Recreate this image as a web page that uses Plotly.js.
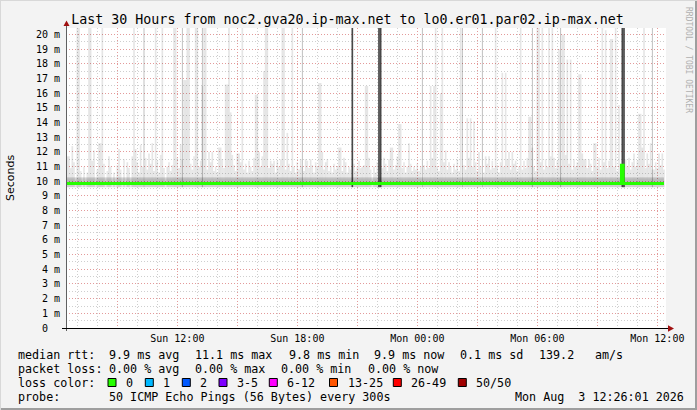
<!DOCTYPE html>
<html><head><meta charset="utf-8">
<script src="https://cdn.plot.ly/plotly-3.0.1.min.js"></script>
<style>html,body{margin:0;padding:0;background:#f3f3f3;overflow:hidden}#chart{width:697px;height:410px}</style>
</head><body><div id="chart"></div>
<script>
// ---------------- data ----------------
const rangeStart = "2026-08-02 06:26:01";
const rangeEnd   = "2026-08-03 12:26:01";

const xTickTimes  = ["2026-08-02 12:00","2026-08-02 18:00","2026-08-03 00:00","2026-08-03 06:00","2026-08-03 12:00"];
const xTickLabels = ["Sun 12:00","Sun 18:00","Mon 00:00","Mon 06:00","Mon 12:00"];
const xMajorGridTimes = ["2026-08-02 09:00","2026-08-02 12:00","2026-08-02 15:00","2026-08-02 18:00","2026-08-02 21:00",
  "2026-08-03 00:00","2026-08-03 03:00","2026-08-03 06:00","2026-08-03 09:00","2026-08-03 12:00"];
const yTickValues = [0,1,2,3,4,5,6,7,8,9,10,11,12,13,14,15,16,17,18,19,20];
const yTickLabels = ["0\u00a0\u00a0","1 m","2 m","3 m","4 m","5 m","6 m","7 m","8 m","9 m","10 m","11 m","12 m",
  "13 m","14 m","15 m","16 m","17 m","18 m","19 m","20 m"];

// light smoke: max ping per 5-min sample (ms); 25 = off the top of the scale
const sunSmokeTimes = ["06:30","06:35","06:45","07:00","07:05","07:35","07:40","07:50","08:05","08:10","08:15","08:35",
  "09:05","09:30","09:45","09:50","09:55","10:10","10:35","10:45","10:55","11:15","11:30","11:50","11:55","12:10",
  "12:20","12:25","12:30","12:35","12:55","13:00","13:15","13:20","13:25","13:35","13:45","14:05","14:10","14:25",
  "14:30","14:35","14:40","15:00","15:05","15:15","15:55","16:00","16:05","16:20","16:25","16:30","16:40","16:50",
  "17:00","17:15","17:20","17:30","17:45","18:10","18:25","18:40","19:05","19:10","19:15","19:25","20:05","20:10",
  "20:20","21:00","21:15","21:25","21:30","22:20","22:40","22:45","23:05","23:10","23:35"];
const sunSmokeMax = [11.7,11.7,12.4,25,25,25,25,12.1,12.6,12.6,25,11.7,
  12.2,11.3,11.7,25,12.2,12.5,11.9,12.6,25,25,11.0,25,25,12.5,
  16.9,16.9,25,25,25,25,16.5,25,25,12.0,12.0,12.3,12.3,16.6,
  16.6,25,14.7,11.9,11.9,25,15.9,15.9,12.0,17.5,25,25,11.4,11.4,
  11.4,25,25,13.3,25,11.5,11.5,11.5,16.7,16.7,12.0,11.3,12.3,12.3,
  11.6,11.0,11.0,16.5,16.5,11.6,12.3,12.3,13.9,13.9,12.6];
const monSmokeTimes = ["00:20","00:40","00:50","00:55","01:10","01:15","01:25","01:35","02:10","02:30","02:40","02:50",
  "03:05","03:25","03:35","03:55","04:15","04:25","04:35","04:45","04:55","05:10","05:35","05:40","05:45","06:00",
  "06:05","06:15","06:35","06:45","06:50","07:05","07:15","07:20","07:30","07:40","08:05","08:10","08:15","08:20",
  "08:25","08:35","08:50","08:55","09:15","09:25","09:40","09:45","09:55","10:05","10:35","10:50","11:05","11:10",
  "11:15","11:20","11:30","11:40","11:50","12:05","12:15"];
const monSmokeMax = [11.1,16.5,16.5,25,16.0,25,12.1,11.3,25,14.3,14.3,14.1,
  12.0,11.7,11.7,25,17.4,17.4,12.0,12.0,11.4,25,14.4,14.4,12.3,25,
  25,25,25,25,11.6,19.0,20.0,20.0,18.3,18.3,17.3,17.3,11.9,11.5,
  11.5,11.5,12.6,12.6,25,20.3,19.7,19.7,25,15.2,11.6,11.9,14.6,14.6,
  12.3,25,11.9,12.6,10.8,11.9,11.9];

// lower smoke (ms) between the spikes, estimated sample by sample
const sunMidTimes = ["06:40","06:50","07:10","07:20","07:30","07:45","08:00","08:20","08:30","08:40","08:50","09:00",
  "09:10","09:20","09:35","10:00","10:05","10:15","10:25","10:30","10:40","10:50","11:00","11:05","11:10","11:20",
  "11:35","11:40","11:45","12:00","12:05","12:15","12:40","12:45","12:50","13:05","13:10","13:30","13:40","13:50",
  "13:55","14:00","14:15","14:20","14:45","14:50","14:55","15:10","15:20","15:25","15:30","15:35","15:40","15:45",
  "15:50","16:10","16:15","16:35","16:45","16:55","17:05","17:10","17:25","17:35","17:40","17:50","17:55","18:00",
  "18:05","18:15","18:20","18:30","18:35","18:45","18:50","18:55","19:00","19:20","19:30","19:35","19:40","19:45",
  "19:50","19:55","20:00","20:15","20:25","20:30","20:35","20:40","20:50","20:55","21:05","21:10","21:20","21:35",
  "21:40","21:50","21:55","22:00","22:15","22:25","22:30","22:35","22:50","22:55","23:00","23:15","23:20","23:25",
  "23:30","23:40","23:45","23:50","23:55"];
const sunMidMax = [10.9,11.3,10.7,11.0,10.6,11.4,10.8,11.2,10.7,11.0,10.6,11.1,
  10.8,11.5,10.9,11.3,10.6,11.0,11.6,10.8,11.2,10.7,11.4,10.6,11.8,10.9,
  11.3,10.7,11.1,11.6,10.9,11.5,11.2,10.8,11.7,11.0,11.4,10.8,11.3,10.7,
  11.0,10.6,11.5,10.9,11.8,11.1,10.7,11.3,10.8,11.2,10.6,11.4,11.0,10.7,
  11.6,11.0,11.7,10.9,11.2,10.6,11.0,11.5,10.8,11.2,10.7,11.0,10.6,11.3,
  10.8,11.0,10.7,11.4,10.9,11.1,10.6,11.3,11.0,10.8,11.5,10.7,11.0,10.6,
  11.2,10.8,11.0,10.7,11.3,10.6,11.0,10.8,11.2,10.7,11.4,10.9,11.1,11.6,
  10.8,11.0,10.6,11.3,10.9,11.2,10.7,11.5,10.8,11.1,11.7,10.9,11.3,10.6,
  11.0,11.2,10.7,11.0,10.8];
const monMidTimes = ["00:00","00:05","00:10","00:25","00:30","00:35","00:45","01:00","01:05","01:20","01:30","01:40",
  "01:45","01:50","01:55","02:00","02:05","02:20","02:25","02:35","02:45","02:55","03:00","03:10","03:20","03:30",
  "03:40","03:45","03:50","04:00","04:05","04:10","04:20","04:30","04:40","04:50","05:00","05:05","05:15","05:20",
  "05:25","05:30","05:50","05:55","06:10","06:20","06:25","06:30","06:40","06:55","07:00","07:10","07:25","07:35",
  "07:45","07:50","07:55","08:00","08:30","08:40","08:45","09:00","09:05","09:10","09:20","09:30","09:35","09:50",
  "10:00","10:10","10:25","10:30","10:40","10:45","10:55","11:00","11:25","11:35","11:45","11:55","12:00","12:10","12:20"];
const monMidMax = [11.2,10.7,11.0,10.8,11.4,10.9,11.6,11.0,10.7,11.3,10.8,11.0,
  10.6,11.2,10.8,11.5,10.7,11.1,10.8,11.6,11.0,11.3,10.7,11.0,10.6,11.2,
  10.8,11.4,10.9,11.1,10.6,11.3,11.0,11.5,10.8,11.2,10.7,11.0,10.8,11.4,
  10.9,11.6,11.0,10.7,11.3,10.8,11.5,11.0,11.7,10.9,11.4,11.0,11.8,11.2,
  10.8,11.5,11.0,11.3,10.9,11.2,10.7,11.0,11.6,10.8,11.3,10.9,11.4,11.0,
  10.7,11.2,11.5,11.0,10.8,11.3,11.0,11.4,10.9,11.2,10.8,11.3,10.9,11.1,10.8];

// medium grey and dark spikes reaching off scale
const mediumSpikeTimes = ["2026-08-02 10:20","2026-08-02 12:15","2026-08-02 13:15","2026-08-02 18:15",
  "2026-08-03 00:15","2026-08-03 02:15","2026-08-03 03:15","2026-08-03 05:45","2026-08-03 07:10","2026-08-03 11:45"];
const darkSpikeTimes = ["2026-08-02 20:45","2026-08-02 22:05","2026-08-02 22:10","2026-08-03 10:15","2026-08-03 10:20"];
const offScaleTop = 25;

// smoke bands around the median (ms)
const bandTimes = ["2026-08-02 06:26:01","2026-08-03 12:20"];
const bandLow  = [9.6, 9.6];
const bandHigh = [10.2, 10.2];
const innerLow  = [9.95, 9.95];
const innerHigh = [10.3, 10.3];

// median rtt (ms), step line
const medianTimes  = ["2026-08-02 06:26:01","2026-08-03 10:12:30","2026-08-03 10:17:30","2026-08-03 12:20"];
const medianValues = [9.85, 11.1, 9.85, 9.85];

// legend
const lossColorLabels = ["0","1","2","3-5","6-12","13-25","26-49","50/50"];
const lossColors = ["#26ff00","#00b8ff","#0059ff","#7e00ff","#ff00ff","#ff5500","#ff0000","#a10000"];

// ---------------- build ----------------
const day = d => d === "Sun" ? "2026-08-02 " : "2026-08-03 ";
const smokeX = sunSmokeTimes.map(t => day("Sun") + t).concat(monSmokeTimes.map(t => day("Mon") + t));
const smokeTop = sunSmokeMax.concat(monSmokeMax);
const midX = sunMidTimes.map(t => day("Sun") + t).concat(monMidTimes.map(t => day("Mon") + t));
const midTop = sunMidMax.concat(monMidMax);
const smokeMin = bandLow[0];
const noLine = {width:0, color:"rgba(0,0,0,0)"};

const traces = [
  {type:"scatter", mode:"lines", x:bandTimes, y:bandLow, line:noLine, hoverinfo:"skip"},
  {type:"scatter", mode:"lines", x:bandTimes, y:bandHigh, fill:"tonexty", fillcolor:"rgba(0,0,0,0.10)", line:noLine, hoverinfo:"skip"},
  {type:"scatter", mode:"lines", x:bandTimes, y:innerLow, line:noLine, hoverinfo:"skip"},
  {type:"scatter", mode:"lines", x:bandTimes, y:innerHigh, fill:"tonexty", fillcolor:"rgba(0,0,0,0.10)", line:noLine, hoverinfo:"skip"},
  {type:"bar", x:midX, y:midTop.map(v => v - smokeMin), base:smokeMin, width:300000,
    marker:{color:"rgba(0,0,0,0.09)", line:{width:0}}, hoverinfo:"skip"},
  {type:"bar", x:smokeX, y:smokeTop.map(v => v - smokeMin), base:smokeMin, width:300000,
    marker:{color:"rgba(0,0,0,0.10)", line:{width:0}}, hoverinfo:"skip"},
  {type:"bar", x:mediumSpikeTimes, y:mediumSpikeTimes.map(() => offScaleTop - smokeMin), base:smokeMin, width:150000,
    marker:{color:"rgba(0,0,0,0.30)", line:{width:0}}, hoverinfo:"skip"},
  {type:"bar", x:darkSpikeTimes, y:darkSpikeTimes.map(() => offScaleTop - smokeMin), base:smokeMin, width:300000,
    marker:{color:"rgba(40,40,40,0.85)", line:{width:0}}, hoverinfo:"skip"},
  {type:"scatter", mode:"lines", x:medianTimes, y:medianValues, line:{shape:"hv", width:3, color:"#26ff00"}, hoverinfo:"skip"}
];

const L = 66, T = 28, W = 600, H = 300;
const px = X => (X - L) / W;
const py = Y => (T + H - Y) / H;
const mono = "DejaVu Sans Mono, monospace";

const ann = [];
function txt(x, y, s, size, extra) {
  ann.push(Object.assign({xref:"paper", yref:"paper", x:px(x), y:py(y), text:s, showarrow:false,
    xanchor:"left", yanchor:"middle", font:{family:mono, size:size||11.7, color:"#000"}}, extra||{}));
}
txt(16, 354.5, "median rtt:");
txt(107.3, 354.5, "9.9 ms avg");
txt(193.3, 354.5, "11.1 ms max");
txt(286.7, 354.5, "9.8 ms min");
txt(372.3, 354.5, "9.9 ms now");
txt(458.3, 354.5, "0.1 ms sd");
txt(537.3, 354.5, "139.2");
txt(593.3, 354.5, "am/s");
txt(16, 368.5, "packet loss:");
txt(107.3, 368.5, "0.00 % avg");
txt(193.3, 368.5, "0.00 % max");
txt(279.3, 368.5, "0.00 % min");
txt(365.7, 368.5, "0.00 % now");
txt(16, 382.5, "loss color:");
const boxX = [108, 145.3, 182.3, 219, 269.3, 329.5, 393.3, 458.3];
const shapes = [];
lossColorLabels.forEach((lab, i) => {
  shapes.push({type:"rect", xref:"paper", yref:"paper", x0:px(boxX[i]), x1:px(boxX[i]+8), y0:py(386.5), y1:py(378.5),
    fillcolor:lossColors[i], line:{color:"#000", width:1}});
  txt(boxX[i] + 16, 382.5, lab);
});
txt(16, 396.5, "probe:");
txt(107.3, 396.5, "50 ICMP Echo Pings (56 Bytes) every 300s");
txt(513.3, 396.5, "Mon Aug\u00a0\u00a03 12:26:01 2026");
ann.push({xref:"paper", yref:"paper", x:px(10), y:py(178), text:"Seconds", showarrow:false, textangle:-90,
  xanchor:"center", yanchor:"middle", font:{family:"DejaVu Sans, sans-serif", size:11, color:"#000"}});
ann.push({xref:"paper", yref:"paper", x:px(689), y:py(60), text:"RRDTOOL / TOBI OETIKER", showarrow:false, textangle:90,
  xanchor:"center", yanchor:"middle", font:{family:mono, size:8, color:"#b0b0b0"}});

shapes.push({type:"line", xref:"paper", yref:"paper", x0:px(66.5), x1:px(66.5), y0:py(331), y1:py(25), line:{color:"#606060", width:1}});
shapes.push({type:"line", xref:"paper", yref:"paper", x0:px(62), x1:px(669), y0:py(328.5), y1:py(328.5), line:{color:"#000", width:1}});
shapes.push({type:"path", xref:"paper", yref:"paper",
  path:`M ${px(63.5)} ${py(26)} L ${px(69.5)} ${py(26)} L ${px(66.5)} ${py(20.5)} Z`, fillcolor:"#a01010", line:{width:0}});
shapes.push({type:"path", xref:"paper", yref:"paper",
  path:`M ${px(668)} ${py(325.3)} L ${px(668)} ${py(331.7)} L ${px(674)} ${py(328.5)} Z`, fillcolor:"#a01010", line:{width:0}});
shapes.push({type:"line", xref:"paper", yref:"paper", x0:px(696), x1:px(696), y0:py(0), y1:py(410), line:{color:"#9e9e9e", width:2}});
shapes.push({type:"line", xref:"paper", yref:"paper", x0:px(0), x1:px(697), y0:py(409), y1:py(409), line:{color:"#9e9e9e", width:2}});
shapes.push({type:"line", xref:"paper", yref:"paper", x0:px(0.5), x1:px(0.5), y0:py(0), y1:py(410), line:{color:"#d8d8d8", width:1}});
shapes.push({type:"line", xref:"paper", yref:"paper", x0:px(0), x1:px(697), y0:py(0.5), y1:py(0.5), line:{color:"#d8d8d8", width:1}});

const xTickText = xMajorGridTimes.map(t => { const i = xTickTimes.indexOf(t); return i >= 0 ? xTickLabels[i] : ""; });

const layout = {
  width:697, height:410,
  margin:{l:L, r:697-L-W, t:T, b:410-T-H, pad:0},
  paper_bgcolor:"#f3f3f3", plot_bgcolor:"#ffffff",
  barmode:"overlay", showlegend:false,
  title:{text:"Last 30 Hours from noc2.gva20.ip-max.net to lo0.er01.par02.ip-max.net",
    font:{family:mono, size:13.3, color:"#000"}, x:347.5/697, xanchor:"center", xref:"container",
    y:1-19/410, yanchor:"middle", yref:"container"},
  xaxis:{type:"date", range:[rangeStart, rangeEnd], tickmode:"array", tickvals:xMajorGridTimes, ticktext:xTickText,
    showgrid:true, gridcolor:"#e39a9a", griddash:"1px,2px", gridwidth:1, zeroline:false, showline:false, ticks:"",
    ticklabelstandoff:3, tickfont:{family:mono, size:10, color:"#000"}, fixedrange:true,
    minor:{tickmode:"linear", tick0:"2026-08-02 00:00", dtick:3600000, showgrid:true, gridcolor:"#cfcfcf", griddash:"1px,2px", ticks:""}},
  yaxis:{range:[0, 300/14.67], tickmode:"array", tickvals:yTickValues, ticktext:yTickLabels,
    showgrid:true, gridcolor:"#e39a9a", griddash:"1px,2px", gridwidth:1, zeroline:false, showline:false, ticks:"",
    ticklabelstandoff:5, tickfont:{family:mono, size:10, color:"#000"}, fixedrange:true,
    minor:{tickmode:"linear", tick0:0, dtick:0.5, showgrid:true, gridcolor:"#cfcfcf", griddash:"1px,2px", ticks:""}},
  annotations:ann, shapes:shapes
};
Plotly.newPlot("chart", traces, layout, {staticPlot:true, displayModeBar:false});
</script></body></html>
